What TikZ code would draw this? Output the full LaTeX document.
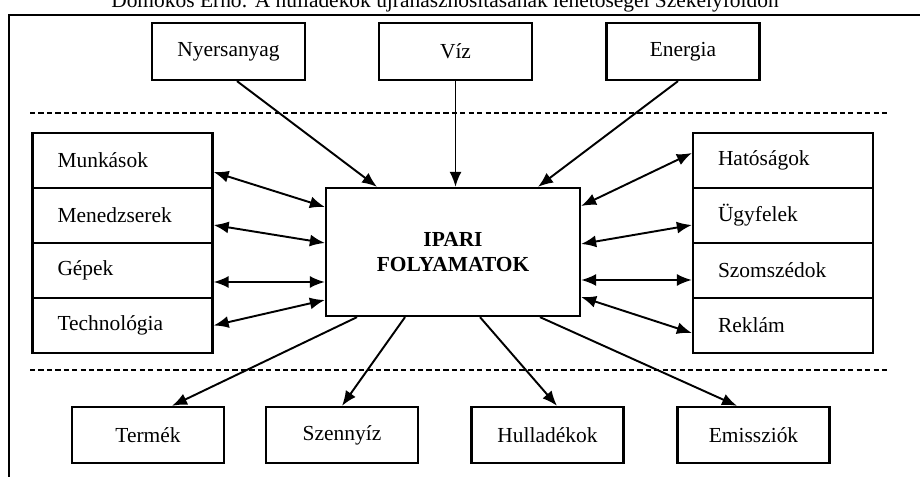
\documentclass[tikz,border=0pt]{standalone}
\usepackage{fontspec}
\setmainfont{Liberation Serif}
\usetikzlibrary{arrows.meta}

\begin{document}
\begin{tikzpicture}[
    >={Latex[length=3mm, width=2.4mm]},
    every node/.style={draw, rectangle, line width=1.3pt, font=\fontsize{12.2}{14}\selectfont},
    source/.style={minimum width=3.06cm, minimum height=1.14cm},
    actor/.style={minimum height=1.1cm, text width=2.6cm, inner xsep=0.5cm, align=left},
    output/.style={minimum width=3.04cm, minimum height=1.12cm},
    flow/.style={->, line width=1.1pt},
    link/.style={<->, line width=1.1pt},
    sep/.style={dash pattern=on 3pt off 1.8pt, line width=1pt}
]
\useasboundingbox (0,0) rectangle (18.4,-9.54);

\node[draw=none, anchor=base, inner sep=0pt] (fejlec) at (8.9,-0.15) {Domokos Ernő: A hulladékok újrahasznosításának lehetőségei Székelyföldön};
\draw[line width=1.3pt] (0.18,-9.6) -- (0.18,-0.3) -- (18.5,-0.3);

\node[source] (nyers) at (4.57,-1.03) {Nyersanyag};
\node[source] (viz) at (9.11,-1.03) {Víz};
\node[source] (energia) at (13.66,-1.03) {Energia};

\node[minimum width=5.08cm, minimum height=2.56cm, align=center, font=\fontsize{12.2}{14.5}\selectfont\bfseries] (ipar) at (9.06,-5.04) {IPARI\\FOLYAMATOK};

\node[actor] (munk) at (2.45,-3.21) {Munkások};
\node[actor] (men) at (2.45,-4.31) {Menedzserek};
\node[actor] (gep) at (2.45,-5.41) {Gépek};
\node[actor] (tech) at (2.45,-6.51) {Technológia};

\node[actor] (hat) at (15.66,-3.21) {Hatóságok};
\node[actor] (ugyf) at (15.66,-4.31) {Ügyfelek};
\node[actor] (szom) at (15.66,-5.41) {Szomszédok};
\node[actor] (rekl) at (15.66,-6.51) {Reklám};

\node[output] (termek) at (2.96,-8.7) {Termék};
\node[output] (szenny) at (6.84,-8.7) {Szennyíz};
\node[output] (hull) at (10.95,-8.7) {Hulladékok};
\node[output] (emis) at (15.07,-8.7) {Emissziók};

\draw[sep] (0.6,-2.26) -- (17.76,-2.26);
\draw[sep] (0.6,-7.4) -- (17.76,-7.4);

\draw[flow] ([xshift=0.17cm]nyers.south) -- ([xshift=-1.52cm]ipar.north);
\draw[flow] (viz.south) -- (viz.south |- ipar.north);
\draw[flow] ([xshift=-0.1cm]energia.south) -- ([xshift=1.7cm]ipar.north);

\draw[link] ([yshift=-0.23cm]munk.east) -- ([yshift=0.9cm]ipar.west);
\draw[link] ([yshift=-0.19cm]men.east) -- ([yshift=0.18cm]ipar.west);
\draw[link] ([yshift=-0.23cm]gep.east) -- ([yshift=-0.6cm]ipar.west);
\draw[link] (tech.east) -- ([yshift=-0.96cm]ipar.west);

\draw[link] ([yshift=0.92cm]ipar.east) -- ([yshift=0.15cm]hat.west);
\draw[link] ([yshift=0.16cm]ipar.east) -- ([yshift=-0.19cm]ugyf.west);
\draw[link] ([yshift=-0.56cm]ipar.east) -- ([yshift=-0.19cm]szom.west);
\draw[link] ([yshift=-0.9cm]ipar.east) -- ([yshift=-0.15cm]rekl.west);

\draw[flow] ([xshift=-1.92cm]ipar.south) -- ([xshift=0.48cm]termek.north);
\draw[flow] ([xshift=-0.96cm]ipar.south) -- (szenny.north);
\draw[flow] ([xshift=0.54cm]ipar.south) -- ([xshift=0.19cm]hull.north);
\draw[flow] ([xshift=1.74cm]ipar.south) -- ([xshift=-0.33cm]emis.north);
\end{tikzpicture}
\end{document}
